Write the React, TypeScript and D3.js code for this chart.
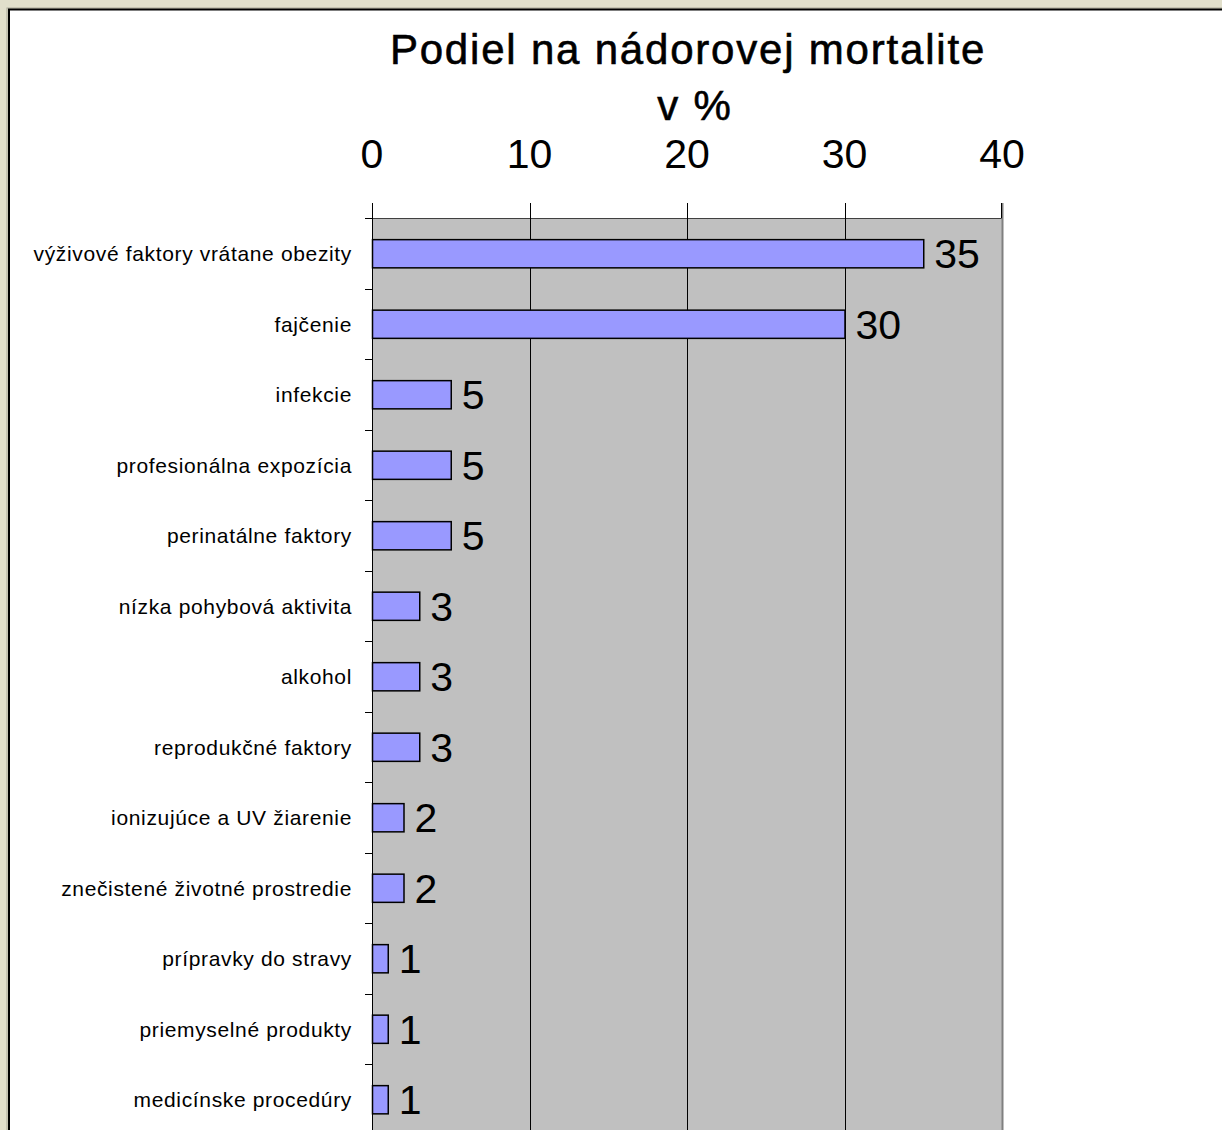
import React, { useEffect, useRef } from "react";
import * as d3 from "d3";

const categories = [
  "výživové faktory vrátane obezity",
  "fajčenie",
  "infekcie",
  "profesionálna expozícia",
  "perinatálne faktory",
  "nízka pohybová aktivita",
  "alkohol",
  "reprodukčné faktory",
  "ionizujúce a UV žiarenie",
  "znečistené životné prostredie",
  "prípravky do stravy",
  "priemyselné produkty",
  "medicínske procedúry",
];
const values = [35, 30, 5, 5, 5, 3, 3, 3, 2, 2, 1, 1, 1];
const xTicks = [0, 10, 20, 30, 40];
const titleLines = ["Podiel na nádorovej mortalite", "v %"];

export default function App() {
  const ref = useRef<SVGSVGElement>(null);
  useEffect(() => {
    document.body.style.margin = "0";
    const svg = d3.select(ref.current);
    svg.selectAll("*").remove();
    const W = 1222, H = 1130;
    const font = "'Liberation Sans', Arial, sans-serif";
    const left = 372, right = 1002, top = 218;
    const band = 70.5;
    const x = d3.scaleLinear().domain([0, 40]).range([left, right]);
    const y = d3.scaleBand<string>().domain(categories)
      .range([top, top + band * categories.length]).paddingInner(0.6).paddingOuter(0.3);

    svg.append("rect").attr("width", W).attr("height", H).attr("fill", "#e1dfcb");
    svg.append("rect").attr("x", 7).attr("y", 8).attr("width", W).attr("height", H)
      .attr("fill", "none").attr("stroke", "#a9a898").attr("stroke-width", 1);
    svg.append("rect").attr("x", 9).attr("y", 9.5).attr("width", W).attr("height", H)
      .attr("fill", "#ffffff").attr("stroke", "#000").attr("stroke-width", 2);

    // title
    svg.append("text").attr("x", 688).attr("y", 64).attr("text-anchor", "middle")
      .attr("font-family", font).attr("font-size", 42).attr("letter-spacing", 1.8)
      .attr("stroke", "#000").attr("stroke-width", 0.6).text(titleLines[0]);
    svg.append("text").attr("x", 695).attr("y", 120).attr("text-anchor", "middle")
      .attr("font-family", font).attr("font-size", 42).attr("letter-spacing", 1.8)
      .attr("stroke", "#000").attr("stroke-width", 0.6).text(titleLines[1]);

    // plot area
    svg.append("rect").attr("x", left).attr("y", top).attr("width", right - left)
      .attr("height", H - top + 5).attr("fill", "#c0c0c0");
    svg.append("line").attr("x1", left).attr("x2", right).attr("y1", top + 0.5).attr("y2", top + 0.5)
      .attr("stroke", "#404040").attr("stroke-width", 1);

    // gridlines + top ticks
    svg.selectAll(".grid").data(xTicks).join("line")
      .attr("x1", d => Math.round(x(d)) + 0.5).attr("x2", d => Math.round(x(d)) + 0.5)
      .attr("y1", 203).attr("y2", H)
      .attr("stroke", (d) => (d === 40 ? "#808080" : "#000"))
      .attr("stroke-width", (d) => (d === 40 ? 2 : 1));
    svg.append("line").attr("x1", 1001.5).attr("x2", 1001.5).attr("y1", 203).attr("y2", top)
      .attr("stroke", "#000");

    svg.selectAll(".xt").data(xTicks).join("text")
      .attr("x", d => x(d)).attr("y", 168).attr("text-anchor", "middle")
      .attr("font-family", font).attr("font-size", 41).text(d => String(d));

    // category ticks
    const bounds = d3.range(categories.length + 1).map(i => top + i * band);
    svg.selectAll(".ct").data(bounds).join("line")
      .attr("x1", left - 7).attr("x2", left).attr("y1", d => Math.round(d) + 0.5).attr("y2", d => Math.round(d) + 0.5)
      .attr("stroke", "#000");
    svg.append("line").attr("x1", left + 0.5).attr("x2", left + 0.5).attr("y1", 203).attr("y2", H)
      .attr("stroke", "#000");

    // bars
    svg.selectAll(".bar").data(values).join("rect")
      .attr("x", left + 0.5)
      .attr("y", (d, i) => y(categories[i])! + 0.5)
      .attr("width", d => x(d) - left)
      .attr("height", y.bandwidth())
      .attr("fill", "#9999ff").attr("stroke", "#000").attr("stroke-width", 1.5);

    // value labels
    svg.selectAll(".vl").data(values).join("text")
      .attr("x", d => x(d) + 11)
      .attr("y", (d, i) => y(categories[i])! + y.bandwidth() / 2 + 15)
      .attr("font-family", font).attr("font-size", 41).text(d => String(d));

    // category labels
    svg.selectAll(".cl").data(categories).join("text")
      .attr("x", 352).attr("y", d => y(d)! + y.bandwidth() / 2 + 8)
      .attr("text-anchor", "end").attr("font-family", font).attr("font-size", 21)
      .attr("letter-spacing", 0.65).text(d => d);
  }, []);
  return <svg ref={ref} width={1222} height={1130} style={{ display: "block" }} />;
}
